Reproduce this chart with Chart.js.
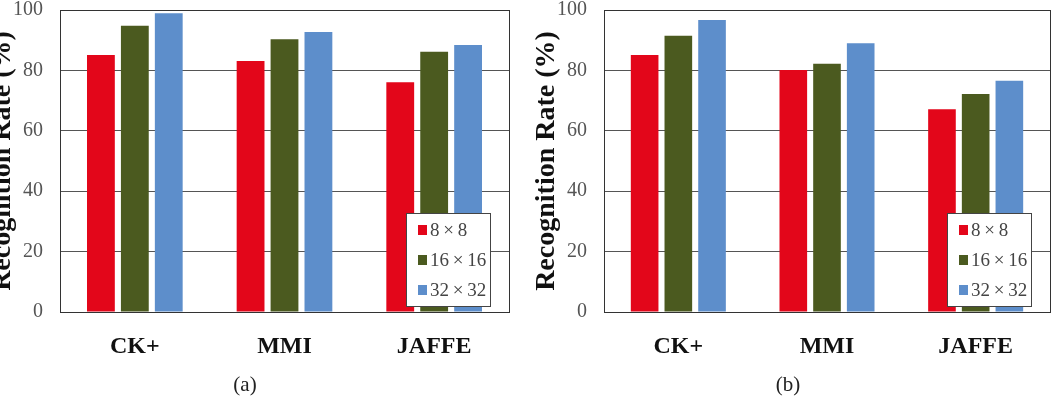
<!DOCTYPE html>
<html>
<head>
<meta charset="utf-8">
<script src="https://cdn.jsdelivr.net/npm/chart.js@4/dist/chart.umd.min.js"></script>
<style>
  html, body { margin: 0; padding: 0; background: #fff; }
  #wrap { position: relative; width: 1063px; height: 402px; overflow: hidden; background: #fff; }
  .pane { position: absolute; top: 0; height: 402px; }
  .cap { position: absolute; top: 372px; font-family: "Liberation Serif", "DejaVu Serif", serif; font-size: 21px; color: #222; transform: translateX(-50%); }
</style>
</head>
<body>
<div id="wrap">
  <div class="pane" style="left:-14px;width:530px"><canvas id="c1" width="530" height="402"></canvas></div>
  <div class="pane" style="left:530px;width:533px"><canvas id="c2" width="533" height="402"></canvas></div>
  <div class="cap" style="left:245px">(a)</div>
  <div class="cap" style="left:788px">(b)</div>
</div>
<script>
const categories = ["CK+", "MMI", "JAFFE"];
const seriesLabels = ["8×8", "16×16", "32×32"];
const seriesColors = ["#E3061A", "#4B5A1F", "#5D8ECB"];
const yTicks = [0, 20, 40, 60, 80, 100];

// (a)
const a_8x8   = [85.1, 83.1, 76.1];
const a_16x16 = [94.8, 90.3, 86.2];
const a_32x32 = [98.9, 92.7, 88.4];
// (b)
const b_8x8   = [85.1, 80.1, 67.1];
const b_16x16 = [91.5, 82.2, 72.2];
const b_32x32 = [96.7, 89.0, 76.6];

const serif = '"Liberation Serif", "DejaVu Serif", serif';

const frame = {
  id: 'frame',
  afterDraw(chart) {
    const { ctx, chartArea: a } = chart;
    ctx.save();
    ctx.strokeStyle = '#333';
    ctx.lineWidth = 1;
    ctx.strokeRect(Math.round(a.left) + 0.5, Math.round(a.top) + 0.5, Math.round(a.right - a.left), Math.round(a.bottom - a.top));
    ctx.restore();
  }
};

const boxLegend = {
  id: 'boxLegend',
  afterDraw(chart) {
    const { ctx, chartArea: a } = chart;
    const w = 84, h = 93;
    const x = Math.round(a.right - 19 - w), y = Math.round(a.bottom - 6 - h);
    ctx.save();
    ctx.fillStyle = '#fff';
    ctx.fillRect(x, y, w, h);
    ctx.strokeStyle = '#444';
    ctx.lineWidth = 1;
    ctx.strokeRect(x + 0.5, y + 0.5, w, h);
    ctx.font = '19px ' + serif;
    ctx.textBaseline = 'middle';
    chart.data.datasets.forEach((ds, i) => {
      const cy = y + 17 + i * 30;
      ctx.fillStyle = ds.backgroundColor;
      ctx.fillRect(x + 12, cy - 5, 9, 10);
      ctx.fillStyle = '#444';
      ctx.fillText(ds.label.replace('×', '\u2009×\u2009'), x + 24, cy + 1);
    });
    ctx.restore();
  }
};

function makeChart(id, vals, padRight) {
  return new Chart(document.getElementById(id), {
    type: 'bar',
    data: {
      labels: categories,
      datasets: seriesLabels.map((lab, i) => ({
        label: lab,
        data: vals[i],
        backgroundColor: seriesColors[i],
        borderWidth: 0,
        categoryPercentage: 0.68,
        barPercentage: 0.82
      }))
    },
    options: {
      responsive: false,
      animation: false,
      layout: { padding: { top: 10, right: padRight, left: 0, bottom: 0 } },
      plugins: { legend: { display: false }, tooltip: { enabled: false } },
      scales: {
        x: {
          grid: { display: false, drawTicks: false },
          border: { display: true, color: '#222', width: 1 },
          ticks: { font: { family: serif, size: 24, weight: 'bold' }, color: '#111', padding: 20 },
          afterFit(s) { s.height = 90; s.paddingLeft = 0; s.paddingRight = 0; }
        },
        y: {
          min: 0, max: 100,
          afterBuildTicks(s) { s.ticks = yTicks.map(v => ({ value: v })); },
          grid: { color: '#555', lineWidth: 1, drawTicks: false },
          border: { display: true, color: '#333', width: 1 },
          ticks: { font: { family: serif, size: 20 }, color: '#555', padding: 17 },
          title: { display: true, text: 'Recognition Rate (%)', font: { family: serif, size: 28, weight: 'bold' }, color: '#111', padding: 0 },
          afterFit(s) { s.width = 74; s.paddingTop = 0; s.paddingBottom = 0; }
        }
      }
    },
    plugins: [frame, boxLegend]
  });
}

makeChart('c1', [a_8x8, a_16x16, a_32x32], 7);
makeChart('c2', [b_8x8, b_16x16, b_32x32], 13);
</script>
</body>
</html>
